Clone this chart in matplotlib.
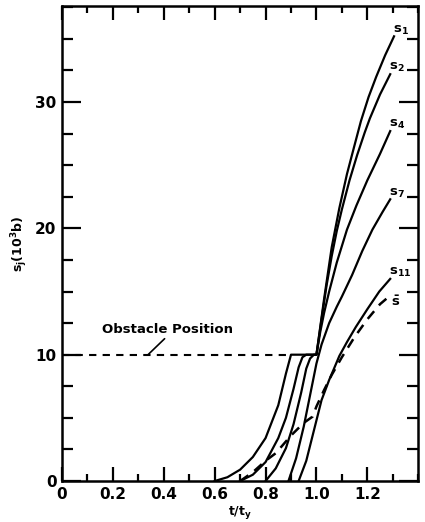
import matplotlib.pyplot as plt
from matplotlib.ticker import MultipleLocator, FixedLocator

plt.rcParams['font.family'] = ['DejaVu Sans']
plt.rcParams['font.weight'] = 'bold'
plt.rcParams['mathtext.default'] = 'bf'

# positions s_j of the piled-up dislocations against normalized time t/t_y
s1_t = [0.60, 0.65, 0.70, 0.75, 0.80, 0.85, 0.88, 0.90, 1.00, 1.03, 1.06, 1.09,
        1.12, 1.15, 1.175, 1.205, 1.235, 1.27, 1.305]
s1_v = [0.0, 0.3, 0.9, 1.9, 3.4, 6.0, 8.5, 10.0, 10.0, 14.4, 18.5, 21.6,
        24.3, 26.6, 28.5, 30.4, 32.0, 33.7, 35.2]

s2_t = [0.70, 0.75, 0.80, 0.85, 0.88, 0.91, 0.93, 0.945, 0.96, 1.00, 1.02, 1.04,
        1.06, 1.08, 1.10, 1.13, 1.16, 1.19, 1.21, 1.25, 1.29]
s2_v = [0.0, 0.5, 1.5, 3.4, 5.0, 7.3, 9.0, 9.8, 10.0, 10.0, 12.8, 15.5,
        17.8, 19.8, 21.5, 23.8, 25.8, 27.6, 28.7, 30.6, 32.2]

s4_t = [0.80, 0.84, 0.88, 0.91, 0.94, 0.96, 0.975, 0.99, 1.00, 1.015, 1.03, 1.05,
        1.08, 1.12, 1.157, 1.20, 1.25, 1.29]
s4_v = [0.0, 1.0, 2.6, 4.5, 7.0, 8.9, 9.7, 10.0, 10.0, 11.8, 13.3, 15.0,
        17.3, 19.9, 21.8, 23.8, 25.9, 27.7]

s7_t = [0.89, 0.92, 0.95, 0.98, 1.00, 1.02, 1.05, 1.08, 1.10, 1.14, 1.18, 1.22, 1.26, 1.29]
s7_v = [0.0, 1.8, 4.3, 7.3, 9.3, 10.8, 12.5, 13.8, 14.6, 16.3, 18.2, 19.9, 21.3, 22.3]

s11_t = [0.93, 0.96, 0.99, 1.02, 1.05, 1.067, 1.09, 1.12, 1.155, 1.20, 1.247, 1.29]
s11_v = [0.0, 1.6, 4.0, 6.4, 8.0, 8.8, 9.9, 11.0, 12.2, 13.6, 15.0, 16.0]

sbar_t = [0.70, 0.75, 0.80, 0.84, 0.90, 0.95, 0.985, 1.00, 1.03, 1.06, 1.10, 1.15,
          1.20, 1.25, 1.285]
sbar_v = [0.0, 0.7, 1.6, 2.2, 3.6, 4.6, 5.1, 5.9, 7.2, 8.4, 9.8, 11.4,
          12.8, 14.0, 14.6]

obstacle_t = [0.0, 0.90]
obstacle_v = [10.0, 10.0]

curve_labels = ['$s_1$', '$s_2$', '$s_4$', '$s_7$', '$s_{11}$']
x_ticks = [0, 0.2, 0.4, 0.6, 0.8, 1.0, 1.2]
x_ticklabels = ['0', '0.2', '0.4', '0.6', '0.8', '1.0', '1.2']
y_ticks = [0, 10, 20, 30]

fig = plt.figure(figsize=(4.25, 5.22), dpi=100)
ax = fig.add_axes([0.146, 0.0785, 0.838, 0.91])

curves = [(s1_t, s1_v), (s2_t, s2_v), (s4_t, s4_v), (s7_t, s7_v), (s11_t, s11_v)]
for (t, v), lab in zip(curves, curve_labels):
    ax.plot(t, v, color='black', lw=1.6, solid_joinstyle='round')
    ax.text(t[-1] - 0.005, v[-1] + 0.5, lab, fontsize=9.5, ha='left', va='center')

ax.plot(sbar_t, sbar_v, color='black', lw=1.8, ls=(0, (4, 3)))
ax.text(sbar_t[-1] + 0.008, sbar_v[-1] - 0.4, r'$\bar{s}$', fontsize=9.5,
        ha='left', va='center')

ax.plot(obstacle_t, obstacle_v, color='black', lw=1.5, ls=(0, (3.5, 3)))
ax.annotate('Obstacle Position', xy=(0.338, 10.0), xytext=(0.157, 12.0),
            fontsize=9.5, ha='left', va='center',
            arrowprops=dict(arrowstyle='-', color='black', lw=1.2,
                            shrinkA=0, shrinkB=0, relpos=(0.5, 0.0)))

ax.set_xlim(0, 1.4)
ax.set_ylim(0, 37.6)
ax.xaxis.set_major_locator(FixedLocator(x_ticks))
ax.set_xticklabels(x_ticklabels)
ax.xaxis.set_minor_locator(MultipleLocator(0.1))
ax.yaxis.set_major_locator(FixedLocator(y_ticks))
ax.yaxis.set_minor_locator(MultipleLocator(2.5))

ax.tick_params(which='both', direction='in', top=True, right=True, width=1.6,
               labelsize=11, pad=4)
ax.tick_params(axis='y', which='major', length=14)
ax.tick_params(axis='y', which='minor', length=8)
ax.tick_params(axis='x', which='major', length=10)
ax.tick_params(axis='x', which='minor', length=5)
for sp in ax.spines.values():
    sp.set_linewidth(1.8)

ax.set_xlabel('$t/t_y$', fontsize=9, labelpad=2)
ax.set_ylabel('$s_j(10^3b)$', fontsize=9, labelpad=4)

fig.savefig('out.png', dpi=100)
